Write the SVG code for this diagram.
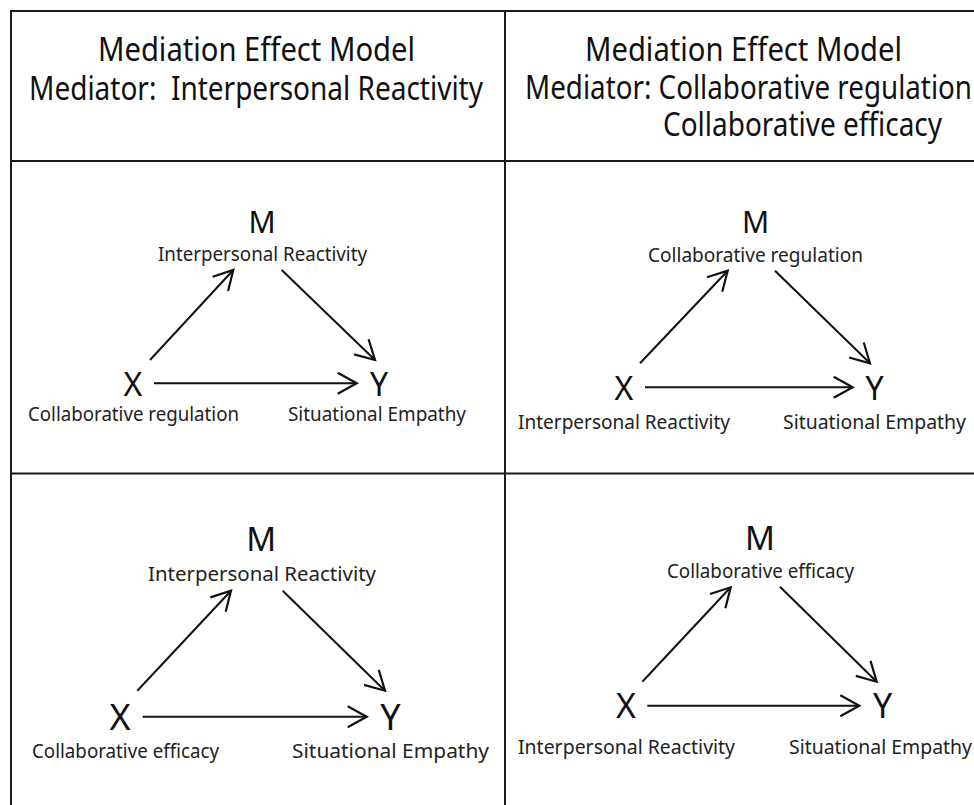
<svg xmlns="http://www.w3.org/2000/svg" width="974" height="805" viewBox="0 0 974 805">
<style>
.grid{stroke:#1a1a1a;stroke-width:2;fill:none}
.hd{font-family:"Noto Sans","Open Sans","Liberation Sans",sans-serif;font-size:32px;fill:#111}
.big{font-family:"Noto Sans","Open Sans","Liberation Sans",sans-serif;fill:#111;text-anchor:middle}
.lb{font-family:"Noto Sans","Open Sans","Liberation Sans",sans-serif;font-size:19px;fill:#222}
.ar{stroke:#111;stroke-width:2;fill:none;marker-end:url(#ah)}
</style>
<defs>
<marker id="ah" markerUnits="userSpaceOnUse" viewBox="-24 -14 28 28" markerWidth="28" markerHeight="28" refX="0" refY="0" orient="auto" overflow="visible">
<path d="M-19,-10.5 L0,0 L-19,10.5" fill="none" stroke="#111" stroke-width="2.2" stroke-linejoin="miter"/>
</marker>
</defs>
<rect width="974" height="805" fill="#fff"/>
<g id="grid">
<path class="grid" d="M11,805 V11 H974 M505,11 V805 M11,161 H974 M11,473.5 H974"/>
</g>
<g id="header-left">
<text class="hd" x="98" y="61" textLength="317" lengthAdjust="spacingAndGlyphs">Mediation Effect Model</text>
<text class="hd" x="29" y="100" textLength="454" lengthAdjust="spacingAndGlyphs">Mediator:&#160; Interpersonal Reactivity</text>
</g>
<g id="header-right">
<text class="hd" x="585" y="61" textLength="317" lengthAdjust="spacingAndGlyphs">Mediation Effect Model</text>
<text class="hd" x="525" y="99" textLength="447" lengthAdjust="spacingAndGlyphs">Mediator: Collaborative regulation</text>
<text class="hd" x="663" y="136" textLength="279" lengthAdjust="spacingAndGlyphs">Collaborative efficacy</text>
</g>
<g id="p1-M"><text class="big" x="262" y="233" font-size="30">M</text><text class="lb" x="158" y="261" textLength="209" lengthAdjust="spacingAndGlyphs">Interpersonal Reactivity</text></g>
<g id="p1-X"><text class="big" x="133" y="396" font-size="32">X</text><text class="lb" x="28" y="421" textLength="211" lengthAdjust="spacingAndGlyphs">Collaborative regulation</text></g>
<g id="p1-Y"><text class="big" x="379" y="396" font-size="32">Y</text><text class="lb" x="288" y="421" textLength="178" lengthAdjust="spacingAndGlyphs">Situational Empathy</text></g>
<g id="p2-M"><text class="big" x="755.5" y="233" font-size="30">M</text><text class="lb" x="648" y="262" textLength="215" lengthAdjust="spacingAndGlyphs">Collaborative regulation</text></g>
<g id="p2-X"><text class="big" x="624" y="400" font-size="32">X</text><text class="lb" x="518" y="429" textLength="212" lengthAdjust="spacingAndGlyphs">Interpersonal Reactivity</text></g>
<g id="p2-Y"><text class="big" x="874.5" y="400" font-size="32">Y</text><text class="lb" x="783" y="429" textLength="183" lengthAdjust="spacingAndGlyphs">Situational Empathy</text></g>
<g id="p3-M"><text class="big" x="261.3" y="551" font-size="33">M</text><text class="lb" x="148" y="581" font-size="20" textLength="228" lengthAdjust="spacingAndGlyphs">Interpersonal Reactivity</text></g>
<g id="p3-X"><text class="big" x="120" y="730" font-size="36">X</text><text class="lb" x="32" y="757.5" font-size="20" textLength="187" lengthAdjust="spacingAndGlyphs">Collaborative efficacy</text></g>
<g id="p3-Y"><text class="big" x="390.5" y="730" font-size="36">Y</text><text class="lb" x="292" y="757.5" font-size="20" textLength="197" lengthAdjust="spacingAndGlyphs">Situational Empathy</text></g>
<g id="p4-M"><text class="big" x="760" y="550" font-size="33">M</text><text class="lb" x="667" y="577.5" textLength="187" lengthAdjust="spacingAndGlyphs">Collaborative efficacy</text></g>
<g id="p4-X"><text class="big" x="626" y="718" font-size="34">X</text><text class="lb" x="518" y="754" font-size="20" textLength="217" lengthAdjust="spacingAndGlyphs">Interpersonal Reactivity</text></g>
<g id="p4-Y"><text class="big" x="882.5" y="718" font-size="34">Y</text><text class="lb" x="789" y="754" font-size="20" textLength="183" lengthAdjust="spacingAndGlyphs">Situational Empathy</text></g>
<g id="connectors">
<path class="ar" d="M150,360 L233.3,270"/>
<path class="ar" d="M281.7,270 L375,360"/>
<path class="ar" d="M154,383.3 L356.7,383.3"/>
<path class="ar" d="M640,363.3 L727.7,270.7"/>
<path class="ar" d="M775,270.7 L870,363.3"/>
<path class="ar" d="M645,387.3 L852.7,387.3"/>
<path class="ar" d="M137.3,690.7 L231,590.7"/>
<path class="ar" d="M282.7,590.7 L385,690.7"/>
<path class="ar" d="M142.7,716.7 L366.7,716.7"/>
<path class="ar" d="M642.3,681.7 L730.7,587.3"/>
<path class="ar" d="M780,586.7 L876.7,681.7"/>
<path class="ar" d="M647.3,705.7 L859.3,705.7"/>
</g>
</svg>
